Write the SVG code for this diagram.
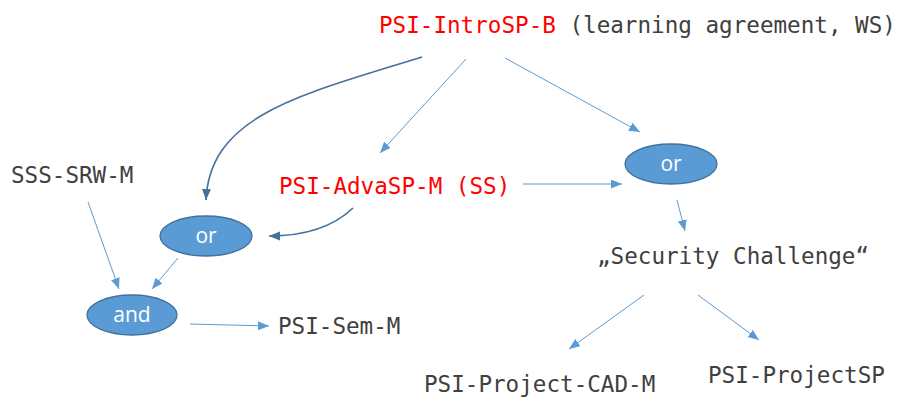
<svg xmlns="http://www.w3.org/2000/svg" width="904" height="397" viewBox="0 0 904 397">
<style>
.t{font-family:"DejaVu Sans Mono","Liberation Mono",monospace;font-size:22.6px;fill:#404040}
.r{fill:#ff0000}
.ell{fill:#5b9bd5;stroke:#41719c;stroke-width:1.3}
.el{font-family:"Open Sans","Liberation Sans",sans-serif;font-size:21px;fill:#ffffff;text-anchor:middle}
.thin{fill:none;stroke:#5b9bd5;stroke-width:1;marker-end:url(#a1)}
.thick{fill:none;stroke:#41719c;stroke-width:1.6;marker-end:url(#a2)}
</style>
<defs>
<marker id="a1" markerUnits="userSpaceOnUse" markerWidth="12" markerHeight="10" refX="11" refY="4.5" orient="auto" viewBox="0 0 12 10"><path d="M0,0 L11,4.5 L0,9 Z" fill="#5b9bd5"/></marker>
<marker id="a2" markerUnits="userSpaceOnUse" markerWidth="12" markerHeight="10" refX="11" refY="4.5" orient="auto" viewBox="0 0 12 10"><path d="M0,0 L11,4.5 L0,9 Z" fill="#41719c"/></marker>
</defs>
<rect width="904" height="397" fill="#ffffff"/>
<g id="connectors">
<path class="thick" d="M422,57 C300,95 210,115 206,200"/>
<path class="thick" d="M353,208 C330,230 300,236 269,236"/>
<line class="thin" x1="466" y1="59" x2="380" y2="153"/>
<line class="thin" x1="505" y1="58" x2="640" y2="132"/>
<line class="thin" x1="523" y1="184" x2="622" y2="184"/>
<line class="thin" x1="677" y1="200" x2="685" y2="231"/>
<line class="thin" x1="88" y1="202" x2="119" y2="289"/>
<line class="thin" x1="178" y1="258" x2="152" y2="289"/>
<line class="thin" x1="190" y1="324" x2="269" y2="326"/>
<line class="thin" x1="644" y1="295" x2="569" y2="349"/>
<line class="thin" x1="698" y1="295" x2="759" y2="340"/>
</g>
<g id="intro"><text class="t" x="379" y="33"><tspan class="r">PSI-IntroSP-B</tspan> (learning agreement, WS)</text></g>
<g id="sss"><text class="t" x="11" y="183">SSS-SRW-M</text></g>
<g id="adva"><text class="t r" x="279" y="194">PSI-AdvaSP-M (SS)</text></g>
<g id="security"><text class="t" x="597" y="264">„Security Challenge“</text></g>
<g id="sem"><text class="t" x="278" y="334">PSI-Sem-M</text></g>
<g id="cad"><text class="t" x="424" y="392">PSI-Project-CAD-M</text></g>
<g id="projectsp"><text class="t" x="708" y="383">PSI-ProjectSP</text></g>
<g id="or-right"><ellipse class="ell" cx="671" cy="164" rx="46" ry="20"/><text class="el" x="671" y="171">or</text></g>
<g id="or-left"><ellipse class="ell" cx="206" cy="236" rx="46" ry="20"/><text class="el" x="206" y="243">or</text></g>
<g id="and"><ellipse class="ell" cx="132" cy="315" rx="45" ry="20"/><text class="el" x="132" y="322">and</text></g>
</svg>
